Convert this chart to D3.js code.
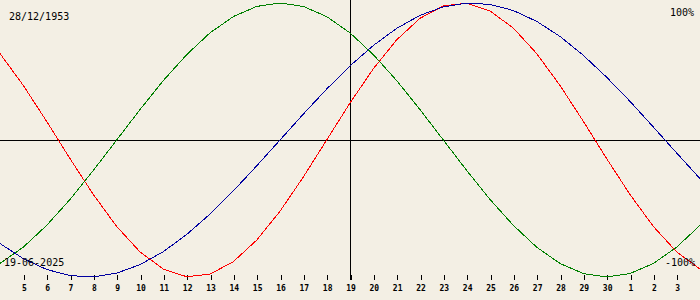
<!DOCTYPE html>
<html>
<head>
<meta charset="utf-8">
<script src="https://cdn.jsdelivr.net/npm/d3@7"></script>
<style>
  html, body { margin: 0; padding: 0; background: #f3efe4; }
  svg { display: block; }
  text { font-family: "DejaVu Sans Mono", monospace; fill: #000; }
</style>
</head>
<body>
<div id="content"></div>
<script>
// days relative to 19-06-2025 (4 June .. 4 July)
const dayOffsets = d3.range(-15, 16);
const tickOffsets = d3.range(-14, 15);
const dayLabels = ["5", "6", "7", "8", "9", "10", "11", "12", "13", "14", "15",
  "16", "17", "18", "19", "20", "21", "22", "23", "24", "25", "26", "27", "28",
  "29", "30", "1", "2", "3"];

const physical = [0.631, 0.398, 0.136, -0.136, -0.398, -0.631, -0.817, -0.942,
  -0.998, -0.979, -0.888, -0.731, -0.52, -0.27, 0, 0.27, 0.52, 0.731, 0.888,
  0.979, 0.998, 0.942, 0.817, 0.631, 0.398, 0.136, -0.136, -0.398, -0.631,
  -0.817, -0.942];
const emotional = [-0.901, -0.782, -0.623, -0.434, -0.222, 0, 0.222, 0.434,
  0.623, 0.782, 0.901, 0.975, 1, 0.975, 0.901, 0.782, 0.623, 0.434, 0.222, 0,
  -0.222, -0.434, -0.623, -0.782, -0.901, -0.975, -1, -0.975, -0.901, -0.782,
  -0.623];
const intellectual = [-0.756, -0.866, -0.945, -0.99, -0.999, -0.972, -0.91,
  -0.815, -0.69, -0.541, -0.372, -0.189, 0, 0.189, 0.372, 0.541, 0.69, 0.815,
  0.91, 0.972, 0.999, 0.99, 0.945, 0.866, 0.756, 0.618, 0.458, 0.282, 0.095,
  -0.095, -0.282];

const width = 700;
const height = 300;

const svg = d3
  .select("#content")
  .append("svg")
  .attr("width", width)
  .attr("height", height);

const x = d3.scaleLinear().domain([-15, 15]).range([0, width]);
const y = d3.scaleLinear().domain([-1, 1]).range([277, 3]);

// zero line and today line
svg
  .append("line")
  .attr("x1", 0)
  .attr("x2", width)
  .attr("y1", y(0))
  .attr("y2", y(0))
  .attr("stroke", "#000")
  .attr("shape-rendering", "crispEdges");

svg
  .append("line")
  .attr("x1", x(0) + 0.5)
  .attr("x2", x(0) + 0.5)
  .attr("y1", 0)
  .attr("y2", 280)
  .attr("stroke", "#000")
  .attr("shape-rendering", "crispEdges");

// day axis
const axis = svg
  .append("g")
  .attr("transform", "translate(0.5,275)")
  .call(
    d3
      .axisBottom(x)
      .tickValues(tickOffsets)
      .tickSize(5)
      .tickFormat((d, i) => dayLabels[i]),
  );
axis.select(".domain").remove();
axis.selectAll("line").attr("shape-rendering", "crispEdges");
axis
  .selectAll("text")
  .attr("y", 16)
  .attr("dy", 0)
  .style("font-family", '"DejaVu Sans Mono", monospace')
  .style("font-size", "8px")
  .style("font-weight", "bold");

// curves
const series = [
  { values: physical, color: "#ff0000" },
  { values: emotional, color: "#008000" },
  { values: intellectual, color: "#0000a0" },
];

const line = d3
  .line()
  .x((d, i) => x(dayOffsets[i]))
  .y((d) => y(d));

series.forEach((s) => {
  svg
    .append("path")
    .attr("d", line(s.values))
    .attr("fill", "none")
    .attr("stroke", s.color)
    .attr("stroke-width", 1)
    .attr("shape-rendering", "crispEdges");
});

// labels
svg.append("text").attr("x", 9).attr("y", 20).style("font-size", "10px").text("28/12/1953");
svg.append("text").attr("x", 694).attr("y", 16).attr("text-anchor", "end").style("font-size", "10px").text("100%");
svg.append("text").attr("x", 4).attr("y", 266).style("font-size", "10px").text("19-06-2025");
svg.append("text").attr("x", 695).attr("y", 266).attr("text-anchor", "end").style("font-size", "10px").text("-100%");
</script>
</body>
</html>
